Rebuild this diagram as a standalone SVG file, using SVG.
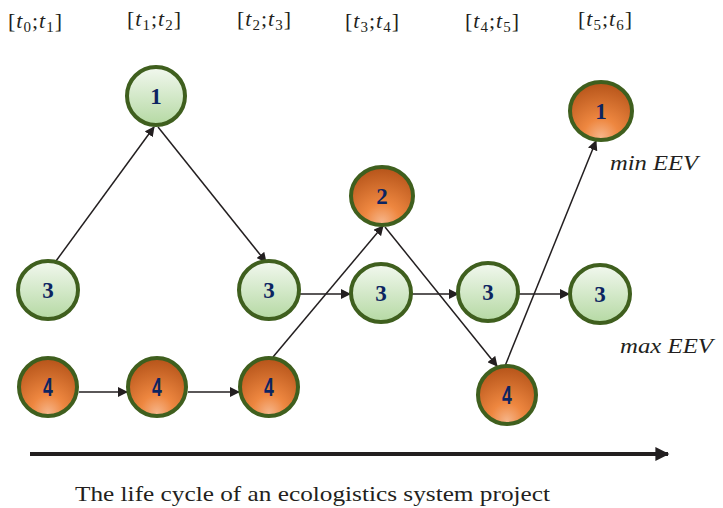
<svg xmlns="http://www.w3.org/2000/svg" width="723" height="508" viewBox="0 0 723 508">
<defs>
<linearGradient id="gg" x1="0" y1="0" x2="0" y2="1">
<stop offset="0" stop-color="#f2f8ef"/>
<stop offset="1" stop-color="#b5d9a3"/>
</linearGradient>
<radialGradient id="og" cx="0.5" cy="0.85" r="0.8" fx="0.5" fy="0.95">
<stop offset="0" stop-color="#f6b58a"/>
<stop offset="0.35" stop-color="#ee8740"/>
<stop offset="1" stop-color="#b9571c"/>
</radialGradient>
<marker id="ah" viewBox="0 0 10 10" refX="9" refY="5" markerWidth="10" markerHeight="10" markerUnits="userSpaceOnUse" orient="auto">
<path d="M0,0 L10,5 L0,10 Z" fill="#231f20"/>
</marker>
<marker id="ax" viewBox="0 0 10 10" refX="9" refY="5" markerWidth="4" markerHeight="3.5" orient="auto">
<path d="M0,0 L10,5 L0,10 Z" fill="#231f20"/>
</marker>
</defs>
<style>
.g{fill:url(#gg);stroke:#3f5f1e;stroke-width:4}
.o{fill:url(#og);stroke:#3f5f1e;stroke-width:4}
.n{font-family:'Liberation Serif',serif;font-weight:bold;font-size:23px;fill:#0c2461;text-anchor:middle}
.n4{font-family:'Liberation Sans Narrow','Liberation Sans',sans-serif;font-weight:bold;font-size:22px;fill:#0c2461;text-anchor:middle}
.e{stroke:#231f20;stroke-width:1.5;fill:none;marker-end:url(#ah)}
.h{font-family:'Liberation Serif',serif;font-size:22px;fill:#231f20}
.i{font-style:italic}
.s{font-size:15px}
.lab{font-family:'Liberation Serif',serif;font-style:italic;font-size:20px;fill:#231f20}
.t{font-family:'Liberation Serif',serif;font-size:22px;fill:#231f20}
</style>
<g id="headers">
<text class="h" x="8" y="28" textLength="54" lengthAdjust="spacing">[<tspan class="i">t</tspan><tspan class="s" dy="4">0</tspan><tspan dy="-4">;</tspan><tspan class="i">t</tspan><tspan class="s" dy="4">1</tspan><tspan dy="-4">]</tspan></text>
<text class="h" x="127" y="26" textLength="54" lengthAdjust="spacing">[<tspan class="i">t</tspan><tspan class="s" dy="4">1</tspan><tspan dy="-4">;</tspan><tspan class="i">t</tspan><tspan class="s" dy="4">2</tspan><tspan dy="-4">]</tspan></text>
<text class="h" x="237" y="26" textLength="54" lengthAdjust="spacing">[<tspan class="i">t</tspan><tspan class="s" dy="4">2</tspan><tspan dy="-4">;</tspan><tspan class="i">t</tspan><tspan class="s" dy="4">3</tspan><tspan dy="-4">]</tspan></text>
<text class="h" x="345" y="28" textLength="54" lengthAdjust="spacing">[<tspan class="i">t</tspan><tspan class="s" dy="4">3</tspan><tspan dy="-4">;</tspan><tspan class="i">t</tspan><tspan class="s" dy="4">4</tspan><tspan dy="-4">]</tspan></text>
<text class="h" x="465" y="28" textLength="54" lengthAdjust="spacing">[<tspan class="i">t</tspan><tspan class="s" dy="4">4</tspan><tspan dy="-4">;</tspan><tspan class="i">t</tspan><tspan class="s" dy="4">5</tspan><tspan dy="-4">]</tspan></text>
<text class="h" x="578" y="26" textLength="54" lengthAdjust="spacing">[<tspan class="i">t</tspan><tspan class="s" dy="4">5</tspan><tspan dy="-4">;</tspan><tspan class="i">t</tspan><tspan class="s" dy="4">6</tspan><tspan dy="-4">]</tspan></text>
</g>
<g id="connectors">
<line class="e" x1="56" y1="261" x2="154" y2="127"/>
<line class="e" x1="158" y1="127" x2="266" y2="262"/>
<line class="e" x1="300" y1="294" x2="350" y2="294"/>
<line class="e" x1="411" y1="294" x2="458" y2="294"/>
<line class="e" x1="519" y1="294" x2="569" y2="294"/>
<line class="e" x1="79" y1="392" x2="127" y2="392"/>
<line class="e" x1="188" y1="392" x2="239" y2="392"/>
<line class="e" x1="273" y1="357" x2="383" y2="226"/>
<line class="e" x1="385" y1="227" x2="497" y2="366"/>
<line class="e" x1="505" y1="366" x2="596" y2="141"/>
<line x1="30" y1="454" x2="668" y2="454" stroke="#231f20" stroke-width="4" marker-end="url(#ax)"/>
</g>
<g id="n_g1"><ellipse class="g" cx="156" cy="96" rx="29" ry="29"/><text class="n" x="156" y="104">1</text></g>
<g id="n_g3a"><ellipse class="g" cx="48" cy="290" rx="30" ry="29"/><text class="n" x="48" y="298">3</text></g>
<g id="n_g3b"><ellipse class="g" cx="269" cy="290" rx="30" ry="29"/><text class="n" x="269" y="298">3</text></g>
<g id="n_g3c"><ellipse class="g" cx="381" cy="293" rx="30" ry="29"/><text class="n" x="381" y="301">3</text></g>
<g id="n_g3d"><ellipse class="g" cx="488" cy="292" rx="30" ry="29"/><text class="n" x="488" y="300">3</text></g>
<g id="n_g3e"><ellipse class="g" cx="600" cy="294" rx="30" ry="29"/><text class="n" x="600" y="302">3</text></g>
<g id="n_o2"><ellipse class="o" cx="382" cy="196" rx="31" ry="29"/><text class="n" x="382" y="204">2</text></g>
<g id="n_o1"><ellipse class="o" cx="601" cy="111" rx="31" ry="29"/><text class="n" x="601" y="119">1</text></g>
<g id="n_o4a"><ellipse class="o" cx="48" cy="387" rx="29" ry="29"/><text class="n4" transform="translate(48,396) scale(0.8,1.15)">4</text></g>
<g id="n_o4b"><ellipse class="o" cx="157" cy="387" rx="29" ry="29"/><text class="n4" transform="translate(157,396) scale(0.8,1.15)">4</text></g>
<g id="n_o4c"><ellipse class="o" cx="269" cy="387" rx="29" ry="29"/><text class="n4" transform="translate(269,396) scale(0.8,1.15)">4</text></g>
<g id="n_o4d"><ellipse class="o" cx="507" cy="395" rx="29" ry="29"/><text class="n4" transform="translate(507,404) scale(0.8,1.15)">4</text></g>
<text class="lab" x="610" y="170" textLength="88" lengthAdjust="spacingAndGlyphs">min EEV</text>
<text class="lab" x="620" y="353" textLength="93" lengthAdjust="spacingAndGlyphs">max EEV</text>
<text class="t" x="75" y="501" textLength="475" lengthAdjust="spacingAndGlyphs">The life cycle of an ecologistics system project</text>
</svg>
